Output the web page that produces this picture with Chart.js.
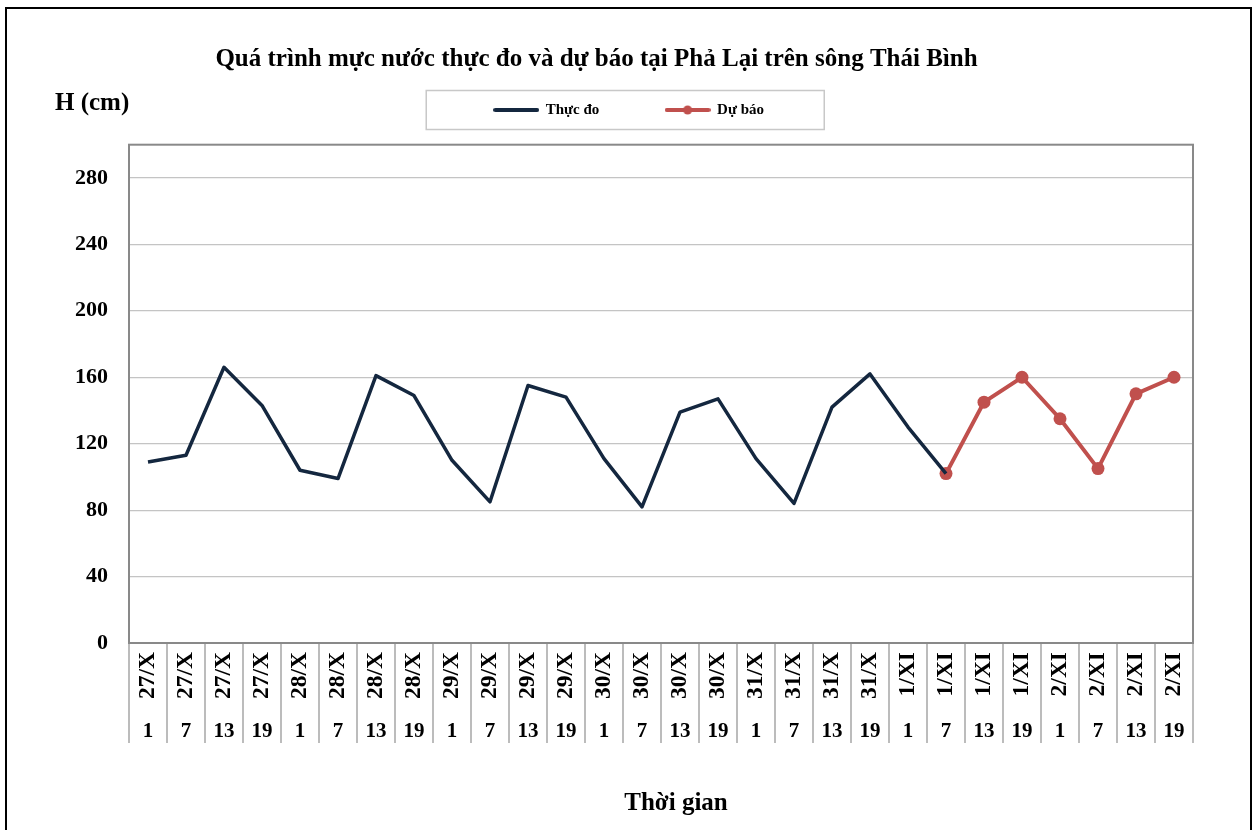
<!DOCTYPE html>
<html><head><meta charset="utf-8">
<script src="https://cdn.jsdelivr.net/npm/chart.js@4/dist/chart.umd.min.js"></script>
<style>
html,body{margin:0;padding:0;background:#fff;overflow:hidden}
#wrap{position:relative;width:1257px;height:830px;overflow:hidden}
#frame{position:absolute;left:5px;top:7px;width:1243px;height:900px;border:2px solid #000;pointer-events:none}
canvas{position:absolute;left:0;top:0}
</style></head><body>
<div id="wrap"><canvas id="c" width="1257" height="830"></canvas><div id="frame"></div></div>
<script>
const dateLabels = ['27/X','27/X','27/X','27/X','28/X','28/X','28/X','28/X','29/X','29/X','29/X','29/X','30/X','30/X','30/X','30/X','31/X','31/X','31/X','31/X','1/XI','1/XI','1/XI','1/XI','2/XI','2/XI','2/XI','2/XI'];
const hourLabels = ['1','7','13','19','1','7','13','19','1','7','13','19','1','7','13','19','1','7','13','19','1','7','13','19','1','7','13','19'];
const observed = [109,113,166,143,104,99,161,149,110,85,155,148,111,82,139,147,111,84,142,162,130,102];
const forecast = [102,145,160,135,105,150,160];
const forecastStart = 21;
const yTicks = [0,40,80,120,160,200,240,280];
const seriesNames = ['Thực đo','Dự báo'];
const chartTitle = 'Quá trình mực nước thực đo và dự báo tại Phả Lại trên sông Thái Bình';
const yTitle = 'H (cm)';
const xTitle = 'Thời gian';

const FONT = "'Liberation Serif','Times New Roman',serif";
const C_OBS = '#14273f';
const C_FC = '#c0504d';

const obsData = dateLabels.map((_, i) => i < observed.length ? observed[i] : null);
const fcData = dateLabels.map((_, i) => (i >= forecastStart && i - forecastStart < forecast.length) ? forecast[i - forecastStart] : null);

function legendImg(color, dot){
  const c = document.createElement('canvas'); c.width = 46; c.height = 12;
  const g = c.getContext('2d');
  g.strokeStyle = color; g.lineWidth = 4; g.lineCap = 'round';
  g.beginPath(); g.moveTo(2,6); g.lineTo(44,6); g.stroke();
  if (dot){ g.fillStyle = color; g.beginPath(); g.arc(23,6,4.5,0,Math.PI*2); g.fill(); }
  return c;
}
const legendImgs = [legendImg(C_OBS,false), legendImg(C_FC,true)];
const pad = n => '\u00a0'.repeat(n);
const legendPads = [15, 17];

const decor = {
  id: 'decor',
  beforeDatasetsDraw(chart){
    const {ctx, chartArea: a, scales: {x}} = chart;
    ctx.save();
    ctx.strokeStyle = '#a6a6a6'; ctx.lineWidth = 1.5;
    const w = x.getPixelForValue(1) - x.getPixelForValue(0);
    const x0 = x.getPixelForValue(0) - w/2;
    for (let i = 0; i <= dateLabels.length; i++){
      const px = x0 + i*w;
      ctx.beginPath(); ctx.moveTo(px, a.bottom); ctx.lineTo(px, a.bottom + 100); ctx.stroke();
    }
    ctx.strokeStyle = '#898989'; ctx.lineWidth = 2;
    ctx.strokeRect(a.left, a.top, a.right - a.left, a.bottom - a.top);
    ctx.restore();
  },
  afterDraw(chart){
    const {ctx} = chart;
    ctx.save();
    const hb = chart.legend.legendHitBoxes;
    if (hb && hb.length){
      const l = hb[0].left - 68;
      const cy = hb[0].top + hb[0].height/2;
      ctx.strokeStyle = '#c8c8c8'; ctx.lineWidth = 1.5;
      ctx.strokeRect(l, cy - 19.5, 398, 39);
    }
    ctx.fillStyle = '#000';
    ctx.font = "bold 25px " + FONT;
    ctx.textBaseline = 'middle'; ctx.textAlign = 'left';
    ctx.fillText(yTitle, 55, 104);
    ctx.textAlign = 'center';
    ctx.fillText(xTitle, 676, 804);
    ctx.restore();
  }
};

new Chart(document.getElementById('c'), {
  type: 'line',
  data: {
    labels: dateLabels,
    datasets: [
      {label: seriesNames[0], data: obsData, borderColor: C_OBS, backgroundColor: C_OBS, borderWidth: 3.5, pointRadius: 0, tension: 0, borderJoinStyle: 'round'},
      {label: seriesNames[1], data: fcData, borderColor: C_FC, backgroundColor: C_FC, borderWidth: 4, pointRadius: 6.5, pointBorderWidth: 0, pointBackgroundColor: C_FC, tension: 0}
    ]
  },
  options: {
    responsive: false, animation: false,
    layout: {padding: {left: 0, right: 64, top: 0, bottom: 82}},
    plugins: {
      title: {display: true, text: chartTitle, color: '#000', font: {family: FONT, size: 25, weight: 'bold'}, padding: {top: 45, bottom: 17.5}},
      subtitle: {display: true, text: '', fullSize: false, weight: 100, font: {size: 1}, padding: {top: 0, bottom: 16}},
      legend: {
        display: true, fullSize: false,
        labels: {
          usePointStyle: true, pointStyleWidth: 44, padding: 10, color: '#000',
          font: {family: FONT, size: 15, weight: 'bold'},
          generateLabels(chart){
            return chart.data.datasets.map((d, i) => ({
              text: d.label + pad(legendPads[i]), pointStyle: legendImgs[i], fillStyle: d.borderColor,
              strokeStyle: d.borderColor, lineWidth: 0, hidden: false, datasetIndex: i, fontColor: '#000'
            }));
          }
        }
      },
      tooltip: {enabled: false}
    },
    scales: {
      x: {
        type: 'category', position: 'bottom', offset: true,
        grid: {display: false}, border: {display: false},
        ticks: {autoSkip: false, minRotation: 90, maxRotation: 90, padding: 1, color: '#000', font: {family: FONT, size: 23.5, weight: 'bold'}},
        afterFit(s){ s.height = 65; }
      },
      x2: {
        type: 'category', position: 'bottom', offset: true, labels: hourLabels,
        grid: {display: false}, border: {display: false},
        ticks: {autoSkip: false, maxRotation: 0, padding: 3, color: '#000', font: {family: FONT, size: 21, weight: 'bold'}},
        afterFit(s){ s.height = 40; }
      },
      y: {
        min: 0, max: 300,
        afterBuildTicks(s){ s.ticks = yTicks.map(v => ({value: v})); },
        grid: {color: '#c4c4c4', lineWidth: 1.2, drawTicks: false},
        border: {display: false},
        ticks: {padding: 21, color: '#000', font: {family: FONT, size: 22, weight: 'bold'}},
        afterFit(s){ s.width = 129; }
      }
    }
  },
  plugins: [decor]
});
</script>
</body></html>
